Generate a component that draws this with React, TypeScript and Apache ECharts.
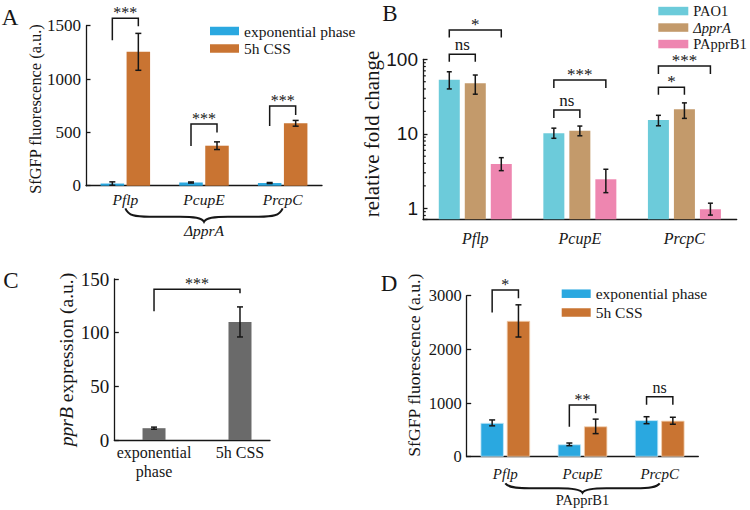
import React, { useEffect, useRef } from 'react';
import * as echarts from 'echarts';

// ---------------- data ----------------
const promoters = ['Pflp', 'PcupE', 'PrcpC'];

// Panel A (ΔpprA)
const aExp = [20, 30, 25];
const aExpErr = [16, 5, 5];
const aCss = [1255, 375, 585];
const aCssErr = [173, 36, 27];

// Panel B (relative fold change, log scale)
const bStrains = ['PAO1', 'ΔpprA', 'PApprB1'];
const bPAO1 = [53, 10.2, 15.3];
const bPAO1Lo = [40, 8.7, 12.8];
const bPAO1Hi = [68, 11.9, 17.7];
const bDelta = [47.6, 11, 21.3];
const bDeltaLo = [34, 9.4, 16.1];
const bDeltaHi = [61.5, 12.7, 26];
const bPAppr = [3.93, 2.45, 0.97];
const bPApprLo = [3.2, 1.62, 0.81];
const bPApprHi = [4.78, 3.34, 1.17];
const bMinorTicks = [0.8, 0.9, 2, 3, 4, 5, 6, 7, 8, 9, 20, 30, 40, 50, 60, 70, 80, 90];

// Panel C (pprB expression)
const cConditions = ['exponential\nphase', '5h CSS'];
const cPositions = [1, 2];
const cValues = [11, 110];
const cErr = [1, 14];

// Panel D (PApprB1)
const dExp = [630, 230, 680];
const dExpErr = [55, 25, 65];
const dCss = [2530, 565, 670];
const dCssErr = [300, 135, 65];

// significance: [leftCat, leftBar, rightCat, rightBar, bracketTopValue, label]
const aSig = [
  [0, 0, 0, 1, 1569, '***'],
  [1, 0, 1, 1, 578, '***'],
  [2, 0, 2, 1, 747, '***'],
];
const bSig = [
  [0, 0, 0, 1, 116.7, 'ns'],
  [0, 0, 0, 2, 247, '*'],
  [1, 0, 1, 1, 20.9, 'ns'],
  [1, 0, 1, 2, 52.8, '***'],
  [2, 0, 2, 1, 42.1, '*'],
  [2, 0, 2, 2, 81.3, '***'],
];
const cSig = [[1, 0, 2, 0, 140.4, '***']];
const dSig = [
  [0, 0, 0, 1, 3106, '*'],
  [1, 0, 1, 1, 963, '**'],
  [2, 0, 2, 1, 1118, 'ns'],
];

const aBrace = { from: 0, to: 2, label: 'ΔpprA' };
const dBrace = { from: 0, to: 2, label: 'PApprB1' };

// ---------------- styles ----------------
const SERIF = '"Liberation Serif", "Times New Roman", serif';
const SANS = '"Liberation Sans", Arial, sans-serif';
const INK = '#161616';
const BLUE = '#2aa8e0';
const ORANGE = '#c97432';
const CYAN = '#6ccbda';
const TAN = '#c39a6b';
const PINK = '#ee86b0';
const GRAY = '#6a6a6a';

const aLegs = [[22, 8], [22, 8.5], [20, 9]];
const bLegs = [[7.5, 7.5], [7.5, 7.5], [8, 8], [8, 8], [7.5, 7.5], [8, 8]];
const cLegs = [[22, 4]];
const dLegs = [[22.5, 8.3], [21.7, 8.3], [8, 8]];

const plain = (v: number) => String(v);

function offsets(n: number, w: number, g: number) {
  return Array.from({ length: n }, (_, i) => (i - (n - 1) / 2) * (w + g));
}

function errSeries(grid: number, data: number[][], offset: number, cap: number) {
  return {
    type: 'custom',
    xAxisIndex: grid,
    yAxisIndex: grid,
    z: 5,
    silent: true,
    clip: false,
    encode: { x: 0, y: [1, 2] },
    data,
    renderItem: (params: any, api: any) => {
      const lo = api.coord([api.value(0), api.value(1)]);
      const hi = api.coord([api.value(0), api.value(2)]);
      const x = lo[0] + offset;
      const style = { stroke: INK, lineWidth: 1.5 };
      return {
        type: 'group',
        children: [
          { type: 'line', shape: { x1: x, y1: lo[1], x2: x, y2: hi[1] }, style },
          { type: 'line', shape: { x1: x - cap, y1: lo[1], x2: x + cap, y2: lo[1] }, style },
          { type: 'line', shape: { x1: x - cap, y1: hi[1], x2: x + cap, y2: hi[1] }, style },
        ],
      };
    },
  };
}

function sigSeries(grid: number, sig: any[][], legs: number[][], offs: number[], fontSize: number) {
  return {
    type: 'custom',
    xAxisIndex: grid,
    yAxisIndex: grid,
    z: 6,
    silent: true,
    clip: false,
    data: sig.map((s) => [s[0], s[4]]),
    renderItem: (params: any, api: any) => {
      const s = sig[params.dataIndex];
      const [lL, lR] = legs[params.dataIndex];
      const pL = api.coord([s[0], s[4]]);
      const pR = api.coord([s[2], s[4]]);
      const xl = pL[0] + offs[s[1]];
      const xr = pR[0] + offs[s[3]];
      const y = pL[1];
      const isNs = s[5] === 'ns';
      return {
        type: 'group',
        children: [
          {
            type: 'polyline',
            shape: { points: [[xl, y + lL], [xl, y], [xr, y], [xr, y + lR]] },
            style: { stroke: INK, fill: 'none', lineWidth: 1.5 },
          },
          {
            type: 'text',
            x: (xl + xr) / 2,
            y: y + (isNs ? -9.5 : -5.5),
            style: {
              text: s[5],
              fontSize,
              fontFamily: SERIF,
              fill: INK,
              align: 'center',
              verticalAlign: 'middle',
            },
          },
        ],
      };
    },
  };
}

function braceSeries(grid: number, brace: any, top: number, straight: number, tip: number, labelDy: number, fontSize: number, italic: boolean) {
  return {
    type: 'custom',
    xAxisIndex: grid,
    yAxisIndex: grid,
    z: 6,
    silent: true,
    clip: false,
    data: [[brace.from, 0]],
    renderItem: (params: any, api: any) => {
      const cs = params.coordSys;
      const base = cs.y + cs.height;
      const x1 = api.coord([brace.from, 0])[0];
      const x2 = api.coord([brace.to, 0])[0];
      const xm = (x1 + x2) / 2;
      const y0 = base + top;
      const ys = y0 + straight;
      const yt = y0 + tip;
      const c = 24;
      const d =
        `M${x1},${y0} C${x1 + 3},${ys - 1} ${x1 + 10},${ys} ${x1 + c},${ys} ` +
        `L${xm - c},${ys} C${xm - 10},${ys} ${xm - 2},${ys + 1} ${xm},${yt} ` +
        `C${xm + 2},${ys + 1} ${xm + 10},${ys} ${xm + c},${ys} ` +
        `L${x2 - c},${ys} C${x2 - 10},${ys} ${x2 - 3},${ys - 1} ${x2},${y0}`;
      return {
        type: 'group',
        children: [
          { type: 'path', shape: { pathData: d }, style: { stroke: INK, fill: 'none', lineWidth: 2 } },
          {
            type: 'text',
            x: xm,
            y: base + labelDy,
            style: {
              text: brace.label,
              fontSize,
              fontFamily: SERIF,
              fontStyle: italic ? 'italic' : 'normal',
              fill: INK,
              align: 'center',
              verticalAlign: 'middle',
            },
          },
        ],
      };
    },
  };
}

function minorTickSeries(grid: number, vals: number[], len: number) {
  return {
    type: 'custom',
    xAxisIndex: grid,
    yAxisIndex: grid,
    z: 6,
    silent: true,
    clip: false,
    data: vals.map((v) => [0, v]),
    renderItem: (params: any, api: any) => {
      const cs = params.coordSys;
      const y = api.coord([0, api.value(1)])[1];
      return {
        type: 'line',
        shape: { x1: cs.x, y1: y, x2: cs.x + len, y2: y },
        style: { stroke: INK, lineWidth: 1.2 },
      };
    },
  };
}

const axisLine = { show: true, onZero: false, lineStyle: { color: INK, width: 1.3 } };
const yTick = { show: true, inside: true, length: 4.5, lineStyle: { color: INK, width: 1.3 } };

function buildOption() {
  // bar geometry
  const aW = 23.5, aG = 2.5;
  const bW = 21, bG = 5;
  const dW = 23.3, dG = 3;
  const aOff = offsets(2, aW, aG);
  const bOff = offsets(3, bW, bG);
  const dOff = offsets(2, dW, dG);

  const mkErr = (vals: number[], errs: number[], xs?: number[]) =>
    vals.map((v, i) => [xs ? xs[i] : i, v - errs[i], v + errs[i]]);
  const mkErrLH = (lo: number[], hi: number[]) => lo.map((l, i) => [i, l, hi[i]]);

  const legendCommon = {
    orient: 'vertical',
    padding: 0,
    icon: 'rect',
    itemWidth: 29,
    itemHeight: 8.5,
    selectedMode: false,
  };

  return {
    animation: false,
    backgroundColor: '#ffffff',
    grid: [
      { left: 86, top: 25.7, width: 236, height: 160 },
      { left: 423, top: 59.3, width: 313.7, height: 160 },
      { left: 114.3, top: 279, width: 155.7, height: 161 },
      { left: 466.7, top: 295.7, width: 231.6, height: 161 },
    ],
    legend: [
      {
        ...legendCommon,
        data: ['exponential phase', '5h CSS'],
        left: 210,
        top: 23,
        itemGap: 1.5,
        textStyle: { fontFamily: SERIF, fontSize: 15.5, color: INK, lineHeight: 16 },
      },
      {
        ...legendCommon,
        data: bStrains,
        left: 658.3,
        top: 3.3,
        itemWidth: 30,
        itemGap: 1,
        formatter: (n: string) => (n === 'ΔpprA' ? '{i|' + n + '}' : n),
        textStyle: {
          fontFamily: SERIF,
          fontSize: 14.5,
          color: INK,
          lineHeight: 15.5,
          rich: { i: { fontFamily: SERIF, fontSize: 14.5, fontStyle: 'italic', color: INK } },
        },
      },
      {
        ...legendCommon,
        data: ['exponential phase', '5h CSS'],
        left: 561.7,
        top: 285.7,
        itemGap: 2.8,
        textStyle: { fontFamily: SERIF, fontSize: 15.5, color: INK, lineHeight: 16 },
      },
    ],
    xAxis: [
      {
        type: 'category',
        gridIndex: 0,
        data: promoters,
        axisLine,
        axisTick: { show: false },
        axisLabel: { fontFamily: SERIF, fontStyle: 'italic', fontSize: 15.5, color: INK, margin: 4.5, lineHeight: 18 },
      },
      {
        type: 'category',
        gridIndex: 1,
        data: promoters,
        axisLine,
        axisTick: { show: false },
        axisLabel: { fontFamily: SERIF, fontStyle: 'italic', fontSize: 16, color: INK, margin: 10, lineHeight: 18 },
      },
      {
        type: 'value',
        gridIndex: 2,
        min: 0.538,
        max: 2.349,
        axisLine,
        axisTick: { show: false },
        splitLine: { show: false },
        axisLabel: {
          customValues: cPositions,
          formatter: (v: number) => cConditions[Math.round(v) - 1] ?? '',
          fontFamily: SERIF,
          fontSize: 16,
          color: INK,
          margin: 3,
          lineHeight: 19,
        },
      },
      {
        type: 'category',
        gridIndex: 3,
        data: promoters,
        axisLine,
        axisTick: { show: false },
        axisLabel: { fontFamily: SERIF, fontStyle: 'italic', fontSize: 15, color: INK, margin: 8.3, lineHeight: 18 },
      },
    ],
    yAxis: [
      {
        type: 'value',
        gridIndex: 0,
        min: 0,
        max: 1500,
        interval: 500,
        axisLine,
        axisTick: yTick,
        splitLine: { show: false },
        axisLabel: { fontFamily: SERIF, fontSize: 17, color: INK, margin: 5, formatter: plain },
        name: 'SfGFP fluorescence (a.u.)',
        nameLocation: 'middle',
        nameGap: 42.5,
        nameTextStyle: { fontFamily: SERIF, fontSize: 16.4, color: INK, padding: [0, 6.6, 0, 0] },
      },
      {
        type: 'log',
        logBase: 10,
        gridIndex: 1,
        min: 0.711,
        max: 100,
        startValue: 0.711,
        axisLine,
        axisTick: yTick,
        splitLine: { show: false },
        minorTick: { show: false },
        axisLabel: {
          fontFamily: SANS,
          fontSize: 19,
          color: INK,
          margin: 5,
          formatter: (v: number) => {
            const l = Math.log10(v);
            return Math.abs(l - Math.round(l)) < 1e-6 ? String(Math.round(v)) : '';
          },
        },
        name: 'relative fold change',
        nameLocation: 'middle',
        nameGap: 22.5,
        nameTextStyle: { fontFamily: SERIF, fontSize: 21, color: INK, padding: [0, 0, 0, 10.6] },
      },
      {
        type: 'value',
        gridIndex: 2,
        min: 0,
        max: 150,
        interval: 50,
        axisLine,
        axisTick: yTick,
        splitLine: { show: false },
        axisLabel: { fontFamily: SERIF, fontSize: 19, color: INK, margin: 5, formatter: plain },
        name: '{i|pprB} expression (a.u.)',
        nameLocation: 'middle',
        nameGap: 29.3,
        nameTextStyle: {
          fontFamily: SERIF,
          fontSize: 19.5,
          color: INK,
          rich: { i: { fontFamily: SERIF, fontSize: 19.5, fontStyle: 'italic', color: INK } },
        },
      },
      {
        type: 'value',
        gridIndex: 3,
        min: 0,
        max: 3000,
        interval: 1000,
        axisLine,
        axisTick: yTick,
        splitLine: { show: false },
        axisLabel: { fontFamily: SERIF, fontSize: 16.5, color: INK, margin: 5, formatter: plain },
        name: 'SfGFP fluorescence (a.u.)',
        nameLocation: 'middle',
        nameGap: 43.7,
        nameTextStyle: { fontFamily: SERIF, fontSize: 17.7, color: INK, padding: [0, 0, 0, 22] },
      },
    ],
    series: [
      // Panel A
      { type: 'bar', name: 'exponential phase', xAxisIndex: 0, yAxisIndex: 0, data: aExp, barWidth: aW, barGap: (aG / aW) * 100 + '%', itemStyle: { color: BLUE } },
      { type: 'bar', name: '5h CSS', xAxisIndex: 0, yAxisIndex: 0, data: aCss, barWidth: aW, barGap: (aG / aW) * 100 + '%', itemStyle: { color: ORANGE } },
      errSeries(0, mkErr(aExp, aExpErr), aOff[0], 3),
      errSeries(0, mkErr(aCss, aCssErr), aOff[1], 3),
      sigSeries(0, aSig, aLegs, aOff, 16),
      braceSeries(0, aBrace, 22.6, 8.4, 13.4, 44.3, 15.5, true),
      // Panel B
      { type: 'bar', name: 'PAO1', xAxisIndex: 1, yAxisIndex: 1, data: bPAO1, barWidth: bW, barGap: (bG / bW) * 100 + '%', itemStyle: { color: CYAN } },
      { type: 'bar', name: 'ΔpprA', xAxisIndex: 1, yAxisIndex: 1, data: bDelta, barWidth: bW, barGap: (bG / bW) * 100 + '%', itemStyle: { color: TAN } },
      { type: 'bar', name: 'PApprB1', xAxisIndex: 1, yAxisIndex: 1, data: bPAppr, barWidth: bW, barGap: (bG / bW) * 100 + '%', itemStyle: { color: PINK } },
      errSeries(1, mkErrLH(bPAO1Lo, bPAO1Hi), bOff[0], 2.5),
      errSeries(1, mkErrLH(bDeltaLo, bDeltaHi), bOff[1], 2.5),
      errSeries(1, mkErrLH(bPApprLo, bPApprHi), bOff[2], 2.5),
      sigSeries(1, bSig, bLegs, bOff, 17),
      minorTickSeries(1, bMinorTicks, 2.8),
      // Panel C
      { type: 'bar', name: 'pprB', xAxisIndex: 2, yAxisIndex: 2, data: cValues.map((v, i) => [cPositions[i], v]), barWidth: 23, itemStyle: { color: GRAY } },
      errSeries(2, mkErr(cValues, cErr, cPositions), 0, 3),
      sigSeries(2, cSig, cLegs, [0], 16),
      // Panel D
      { type: 'bar', name: 'exponential phase', xAxisIndex: 3, yAxisIndex: 3, data: dExp, barWidth: dW, barGap: (dG / dW) * 100 + '%', itemStyle: { color: BLUE, borderColor: '#c6e9f8', borderWidth: 0.8 } },
      { type: 'bar', name: '5h CSS', xAxisIndex: 3, yAxisIndex: 3, data: dCss, barWidth: dW, barGap: (dG / dW) * 100 + '%', itemStyle: { color: ORANGE, borderColor: '#f2cfae', borderWidth: 0.8 } },
      errSeries(3, mkErr(dExp, dExpErr), dOff[0], 3),
      errSeries(3, mkErr(dCss, dCssErr), dOff[1], 3),
      sigSeries(3, dSig, dLegs, dOff, 16),
      braceSeries(3, dBrace, 26.6, 5, 9.4, 43.3, 14.5, false),
    ],
    graphic: [
      { type: 'text', x: 10, y: 17.5, style: { text: 'A', fontFamily: SERIF, fontSize: 23, fill: INK, align: 'center', verticalAlign: 'middle' } },
      { type: 'text', x: 390, y: 13, style: { text: 'B', fontFamily: SERIF, fontSize: 23, fill: INK, align: 'center', verticalAlign: 'middle' } },
      { type: 'text', x: 11, y: 280, style: { text: 'C', fontFamily: SERIF, fontSize: 23, fill: INK, align: 'center', verticalAlign: 'middle' } },
      { type: 'text', x: 389, y: 283, style: { text: 'D', fontFamily: SERIF, fontSize: 23, fill: INK, align: 'center', verticalAlign: 'middle' } },
    ],
  };
}

export default function App() {
  const ref = useRef<HTMLDivElement>(null);
  useEffect(() => {
    if (!ref.current) return;
    const chart = echarts.init(ref.current, null, { renderer: 'svg' });
    chart.setOption(buildOption() as any);
    return () => chart.dispose();
  }, []);
  return (
    <div
      ref={ref}
      style={{ position: 'absolute', left: 0, top: 0, width: 750, height: 510, background: '#fff' }}
    />
  );
}
